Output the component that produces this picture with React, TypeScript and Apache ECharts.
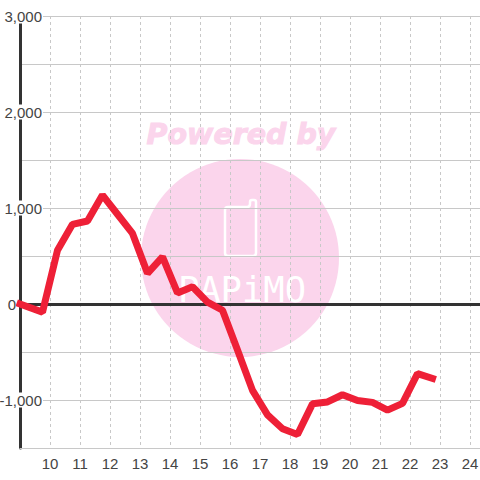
import React, { useEffect, useRef } from "react";
import * as echarts from "echarts";

const hours = [9, 9.75, 10.25, 10.75, 11.25, 11.75, 12.25, 12.75, 13.25, 13.75, 14.25, 14.75, 15.25, 15.75, 16.25, 16.75, 17.25, 17.75, 18.25, 18.75, 19.25, 19.75, 20.25, 20.75, 21.25, 21.75, 22.25, 22.75];
const values = [0, -85, 560, 830, 865, 1135, 935, 735, 320, 490, 115, 180, 20, -65, -480, -900, -1155, -1300, -1360, -1040, -1020, -945, -1005, -1025, -1105, -1035, -725, -775];
const yTicks = [3000, 2000, 1000, 0, -1000];
const LOGO_PHONE = "M228 207H247Q250 207 250 204V202Q250 200 252 200H254Q256 200 256 202V253Q256 256 253 256H228Q225 256 225 253V210Q225 207 228 207Z";

echarts.graphic.registerShape("phoneLogo", echarts.graphic.extendPath(LOGO_PHONE, {}) as any);

const fmtY = (v: number) => {
  if (!yTicks.includes(v)) return "";
  if (v === 0) return "{z|0}";
  return "{n|" + v.toLocaleString("en-US") + "}";
};

export default function App() {
  const ref = useRef<HTMLDivElement>(null);
  useEffect(() => {
    const chart = echarts.init(ref.current!, undefined, { renderer: "svg" });
    const textColor = "#444444";
    const font = "'Liberation Sans', Arial, sans-serif";
    chart.setOption({
      animation: false,
      backgroundColor: "#ffffff",
      grid: { left: 20, right: 0, top: 16, bottom: 32, containLabel: false, outerBoundsMode: "none" },
      graphic: [
        { type: "circle", z: -10, silent: true, shape: { cx: 240, cy: 258, r: 99 }, style: { fill: "#fbd5ec" } },
        { type: "text", z: -10, silent: true, x: 241, y: 134, style: { text: "Powered by", fill: "#fbd5ec", stroke: "#fbd5ec", lineWidth: 1, font: "italic bold 28.5px 'DejaVu Sans'", align: "center", verticalAlign: "middle" } },
        { type: "phoneLogo", z: -9, silent: true, style: { fill: "none", stroke: "#ffffff", lineWidth: 2.5 } },
        { type: "text", z: -9, silent: true, x: 242, y: 289, style: { text: "PAPiMO", fill: "#ffffff", font: "35.5px 'DejaVu Sans Mono'", align: "center", verticalAlign: "middle" } },
      ],
      xAxis: [
        {
          type: "value", min: 9, max: 24.3333, interval: 1,
          axisLine: { onZero: false, lineStyle: { color: "#c8c8c8", width: 1 } },
          axisTick: { show: false },
          axisLabel: { color: textColor, fontSize: 15, fontFamily: font, margin: 8, showMinLabel: false, showMaxLabel: false },
          splitLine: { show: true, lineStyle: { color: "#c8c8c8", type: [3, 3], width: 1 } },
        },
        {
          type: "value", min: 9, max: 24.3333, position: "bottom",
          axisLine: { show: true, onZero: true, lineStyle: { color: "#333333", width: 3 } },
          axisTick: { show: false }, axisLabel: { show: false }, splitLine: { show: false },
        },
      ],
      yAxis: {
        type: "value", min: -1500, max: 3000, interval: 500,
        axisLine: { show: true, onZero: false, lineStyle: { color: "#333333", width: 3 } },
        axisTick: { show: false },
        splitLine: { show: true, lineStyle: { color: "#c8c8c8", width: 1 } },
        axisLabel: {
          color: textColor, fontSize: 15, fontFamily: font, margin: -23, align: "right",
          formatter: fmtY,
          rich: {
            n: { color: textColor, fontSize: 15, fontFamily: font, backgroundColor: "#ffffff", padding: [0, 1, 0, 1], lineHeight: 16 },
            z: { color: textColor, fontSize: 15, fontFamily: font, padding: [0, 27, 0, 0], lineHeight: 16 },
          },
        },
      },
      series: [
        {
          type: "line", xAxisIndex: 0, data: hours.map((h, i) => [h, values[i]]),
          showSymbol: false, symbol: "none", z: 5,
          lineStyle: { color: "#ee2037", width: 7, join: "bevel", cap: "square" },
        },
      ],
    });
    return () => chart.dispose();
  }, []);
  return <div ref={ref} style={{ width: 480, height: 480, position: "fixed", left: 0, top: 0 }} />;
}
